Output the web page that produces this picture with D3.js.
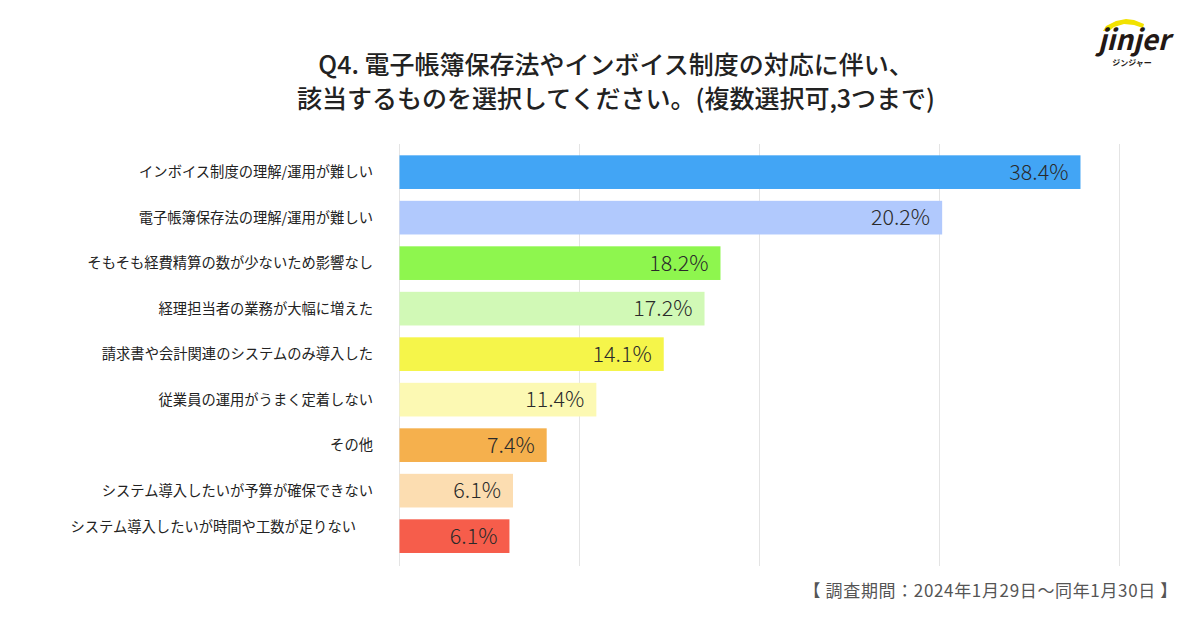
<!DOCTYPE html>
<html>
<head>
<meta charset="utf-8">
<script src="https://cdn.jsdelivr.net/npm/d3@7"></script>
<style>
  html, body { margin: 0; padding: 0; background: #fff; }
  svg { display: block; font-family: "Noto Sans CJK JP", "Noto Sans", sans-serif; }
</style>
</head>
<body>
<div id="chart"></div>
<script>
const categories = [
  "インボイス制度の理解/運用が難しい",
  "電子帳簿保存法の理解/運用が難しい",
  "そもそも経費精算の数が少ないため影響なし",
  "経理担当者の業務が大幅に増えた",
  "請求書や会計関連のシステムのみ導入した",
  "従業員の運用がうまく定着しない",
  "その他",
  "システム導入したいが予算が確保できない",
  "システム導入したいが時間や工数が足りない"
]
// printed percentages
const shownValues = [38.4, 20.2, 18.2, 17.2, 14.1, 11.4, 7.4, 6.1, 6.1]
// bar lengths as drawn in the picture (the 2nd bar is drawn longer than its label)
const barValues = [38.4, 30.6, 18.1, 17.2, 14.9, 11.1, 8.3, 6.4, 6.2]
const barColors = ["#42a5f5", "#b1c9fd", "#8ef64e", "#d1f9b6", "#f5f54a", "#fcf9b3", "#f5b04d", "#fcddb1", "#f65d4b"]
const titleLines = [
  "Q4. 電子帳簿保存法やインボイス制度の対応に伴い、",
  "該当するものを選択してください。(複数選択可,3つまで)"
]
const footnote = "【 調査期間：2024年1月29日〜同年1月30日 】"

const width = 1200, height = 630
const xMax = 40.6

const svg = d3.select("#chart").append("svg")
  .attr("width", width)
  .attr("height", height)

const x = d3.scaleLinear().domain([0, xMax]).range([399.5, 1119.5])
const y = d3.scaleBand()
  .domain(categories)
  .range([149.4, 558.9])
  .paddingInner(0.26)
  .paddingOuter(0.13)

// title
svg.append("g")
  .selectAll("text")
  .data(titleLines)
  .join("text")
    .attr("x", 616)
    .attr("y", (d, i) => 74 + i * 34)
    .attr("text-anchor", "middle")
    .attr("font-size", 25)
    .attr("font-weight", 500)
    .attr("fill", "#222")
    .text(d => d)

// gridlines
svg.append("g")
  .selectAll("line")
  .data(d3.range(5).map(i => i * xMax / 4))
  .join("line")
    .attr("x1", d => x(d))
    .attr("x2", d => x(d))
    .attr("y1", 144)
    .attr("y2", 566)
    .attr("stroke", "#e4e4e4")
    .attr("stroke-width", 1)

// bars
svg.append("g")
  .selectAll("rect")
  .data(categories)
  .join("rect")
    .attr("x", x(0))
    .attr("y", d => y(d))
    .attr("width", (d, i) => x(barValues[i]) - x(0))
    .attr("height", y.bandwidth())
    .attr("fill", (d, i) => barColors[i])

// value labels
svg.append("g")
  .selectAll("text")
  .data(categories)
  .join("text")
    .attr("x", (d, i) => x(barValues[i]) - 12)
    .attr("y", d => y(d) + y.bandwidth() / 2)
    .attr("dy", "0.36em")
    .attr("text-anchor", "end")
    .attr("font-size", 21.5)
    .attr("font-weight", 300)
    .attr("fill", "#2a2a2a")
    .text((d, i) => shownValues[i].toFixed(1) + "%")

// category labels (the last one sits a bit higher and further left in the original)
svg.append("g")
  .selectAll("text")
  .data(categories)
  .join("text")
    .attr("x", (d, i) => i === categories.length - 1 ? 356 : 373)
    .attr("y", (d, i) => y(d) + y.bandwidth() / 2 - (i === categories.length - 1 ? 9 : 0))
    .attr("dy", "0.35em")
    .attr("text-anchor", "end")
    .attr("font-size", 14.3)
    .attr("fill", "#222")
    .text(d => d)

// footnote
svg.append("text")
  .attr("x", 1178)
  .attr("y", 597)
  .attr("text-anchor", "end")
  .attr("font-size", 17)
  .attr("letter-spacing", 0.65)
  .attr("fill", "#555")
  .text(footnote)

// logo
const logo = svg.append("g").attr("transform", "translate(1134,0)")
logo.append("path")
  .attr("d", "M-31,31 L-28,26 L-18,21 L-8,19 L0,20 L10,24 L9,28 L0,25 L-10,24 L-20,27 L-25,31 Z")
  .attr("fill", "#f2e200")
logo.append("text")
  .attr("x", 0)
  .attr("y", 50)
  .attr("text-anchor", "middle")
  .attr("font-size", 28)
  .attr("font-weight", 700)
  .attr("font-style", "italic")
  .attr("fill", "#231815")
  .text("jinjer")
logo.append("text")
  .attr("x", -2)
  .attr("y", 66)
  .attr("text-anchor", "middle")
  .attr("font-size", 8)
  .attr("font-weight", 700)
  .attr("fill", "#231815")
  .text("ジンジャー")
</script>
</body>
</html>
